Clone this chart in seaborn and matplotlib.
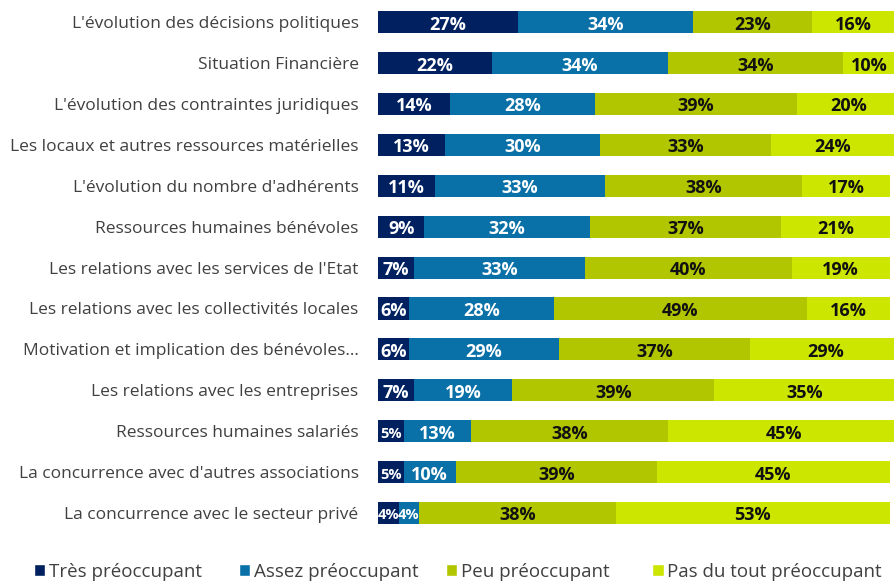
import matplotlib
matplotlib.use("Agg")
import matplotlib.pyplot as plt
import seaborn as sns
import numpy as np
import pandas as pd
from matplotlib.patches import Patch

categories = [
    "L'évolution des décisions politiques",
    "Situation Financière",
    "L'évolution des contraintes juridiques",
    "Les locaux et autres ressources matérielles",
    "L'évolution du nombre d'adhérents",
    "Ressources humaines bénévoles",
    "Les relations avec les services de l'Etat",
    "Les relations avec les collectivités locales",
    "Motivation et implication des bénévoles…",
    "Les relations avec les entreprises",
    "Ressources humaines salariés",
    "La concurrence avec d'autres associations",
    "La concurrence avec le secteur privé",
]
series_names = ["Très préoccupant", "Assez préoccupant", "Peu préoccupant", "Pas du tout préoccupant"]
tres = [27, 22, 14, 13, 11, 9, 7, 6, 6, 7, 5, 5, 4]
assez = [34, 34, 28, 30, 33, 32, 33, 28, 29, 19, 13, 10, 4]
peu = [23, 34, 39, 33, 38, 37, 40, 49, 37, 39, 38, 39, 38]
pas = [16, 10, 20, 24, 17, 21, 19, 16, 29, 35, 45, 45, 53]

colors = ["#002060", "#0A70A8", "#B2C600", "#CDE600"]
text_colors = ["white", "white", "#111111", "#111111"]

series = [tres, assez, peu, pas]
cum = np.cumsum(np.array(series, dtype=float), axis=0)

sns.set_style("white")
plt.rcParams["font.family"] = ["Open Sans", "DejaVu Sans"]

fig = plt.figure(figsize=(8.95, 5.83), dpi=100)
ax = fig.add_axes([0.4223, 0.085, 0.5777, 0.912])

for i in range(3, -1, -1):
    plot_df = pd.DataFrame({"cat": categories, "val": cum[i]})
    sns.barplot(data=plot_df, x="val", y="cat", color=colors[i], orient="h",
                width=0.54, ax=ax, linewidth=0, saturation=1)

for i in range(4):
    left = cum[i] - np.array(series[i])
    for j, v in enumerate(series[i]):
        small = v < 6
        ax.text(left[j] + v / 2, j + 0.06, f"{v}%", ha="center", va="center",
                color=text_colors[i], fontsize=10.5 if small else 13,
                fontweight="bold")

ax.set_xlim(0, 100)
ax.set_ylim(12.5, -0.5)
ax.set_xlabel("")
ax.set_ylabel("")
ax.set_xticks([])
ax.tick_params(axis="y", length=0, pad=14, labelsize=12.5, labelcolor="#404040")
for s in ax.spines.values():
    s.set_visible(False)

legend_x = [0.038, 0.267, 0.498, 0.729]
for c, n, lx in zip(colors, series_names, legend_x):
    fig.legend(handles=[Patch(facecolor=c, label=n)], loc="center left",
               bbox_to_anchor=(lx, 0.019), frameon=False, fontsize=13.5,
               handlelength=0.6, handleheight=0.6, handletextpad=0.2,
               borderpad=0, borderaxespad=0, labelcolor="#404040")

fig.savefig("out.png", dpi=100)
